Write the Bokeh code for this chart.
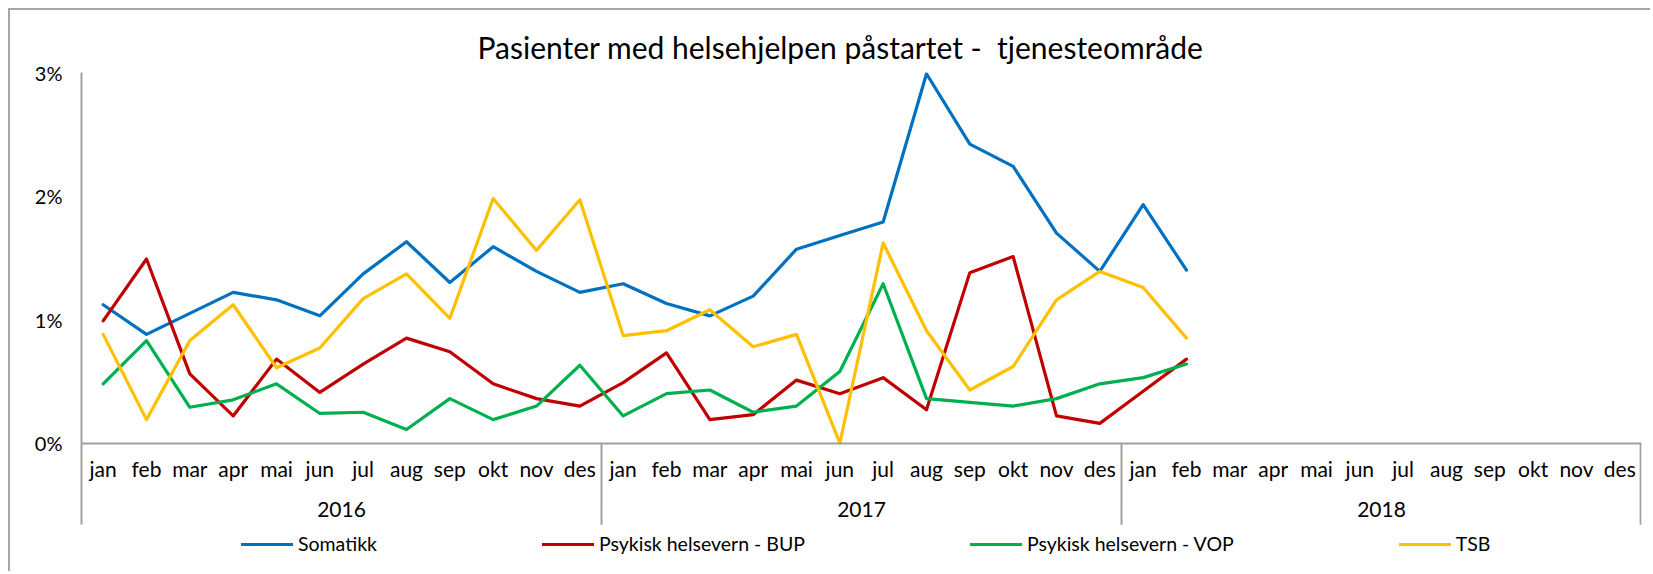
from bokeh.plotting import figure
from bokeh.models import (FactorRange, Range1d, FixedTicker, Legend, LegendItem,
                          PrintfTickFormatter, ColumnDataSource, CategoricalAxis)
from bokeh.embed import file_html
from bokeh.resources import INLINE

years = ["2016", "2017", "2018"]
months = ["jan", "feb", "mar", "apr", "mai", "jun", "jul", "aug", "sep", "okt", "nov", "des"]

# values in percent, jan 2016 .. feb 2018
somatikk = [1.12, 0.88, 1.05, 1.22, 1.16, 1.03, 1.37, 1.63, 1.30, 1.59, 1.39, 1.22,
            1.29, 1.13, 1.03, 1.19, 1.57, 1.68, 1.79, 2.99, 2.42, 2.24, 1.70, 1.39,
            1.93, 1.40]
bup = [0.99, 1.49, 0.56, 0.22, 0.68, 0.41, 0.64, 0.85, 0.74, 0.48, 0.36, 0.30,
       0.49, 0.73, 0.19, 0.23, 0.51, 0.40, 0.53, 0.27, 1.38, 1.51, 0.22, 0.16,
       0.42, 0.68]
vop = [0.48, 0.83, 0.29, 0.35, 0.48, 0.24, 0.25, 0.11, 0.36, 0.19, 0.30, 0.63,
       0.22, 0.40, 0.43, 0.25, 0.30, 0.58, 1.29, 0.36, 0.33, 0.30, 0.36, 0.48,
       0.53, 0.64]
tsb = [0.88, 0.19, 0.83, 1.12, 0.61, 0.77, 1.17, 1.37, 1.01, 1.98, 1.56, 1.97,
       0.87, 0.91, 1.08, 0.78, 0.88, 0.00, 1.62, 0.91, 0.43, 0.62, 1.16, 1.39,
       1.26, 0.85]

series_names = ["Somatikk", "Psykisk helsevern - BUP", "Psykisk helsevern - VOP", "TSB"]
series_values = [somatikk, bup, vop, tsb]
series_colors = ["#0070C0", "#C00000", "#00B050", "#FFC000"]

title_text = "Pasienter med helsehjelpen påstartet -\u00a0 tjenesteområde"

y_ticks = [0, 1, 2, 3]

factors = [(y, m) for y in years for m in months]

FONT = "Lato"
AXIS_GREY = "#a0a0a0"
SEP_DEPTH = -0.66      # how far the category separators reach below 0 (in axis units)
Y_BOTTOM = -1.015      # frame extends below the axis so the legend can live inside it

p = figure(width=1642, height=563,
           x_range=FactorRange(*factors, factor_padding=0, group_padding=0, range_padding=0),
           y_range=Range1d(Y_BOTTOM, 3),
           output_backend="svg", toolbar_location=None,
           min_border_left=71, min_border_right=11, min_border_top=62, min_border_bottom=5,
           outline_line_color=None)
p.styles = {"position": "relative", "left": "8px", "top": "8px",
            "border-left": "2px solid #a6a6a6", "border-top": "2px solid #a6a6a6"}
p.extra_x_ranges = {"years": FactorRange(*years, factor_padding=0, range_padding=0)}

p.title.text = title_text
p.title.text_font = FONT
p.title.text_font_size = "30px"
p.title.text_font_style = "normal"
p.title.text_color = "#000000"
p.title.align = "left"
p.title.offset = 396
p.title.standoff = 16

p.xgrid.visible = False
p.ygrid.visible = False

yax = p.yaxis[0]
yax.ticker = FixedTicker(ticks=y_ticks)
yax.formatter = PrintfTickFormatter(format="%d%%")
yax.bounds = (SEP_DEPTH, y_ticks[-1])
yax.axis_line_color = AXIS_GREY
yax.axis_line_width = 2
yax.major_tick_line_color = None
yax.minor_tick_line_color = None
yax.major_label_text_font = FONT
yax.major_label_text_font_size = "20px"
yax.major_label_text_color = "#000000"
yax.major_label_standoff = 13

xax = p.xaxis[0]
xax.fixed_location = 0
xax.axis_line_color = AXIS_GREY
xax.axis_line_width = 2
xax.major_tick_line_color = None
xax.minor_tick_line_color = None
xax.major_label_text_font = FONT
xax.major_label_text_font_size = "21px"
xax.major_label_text_color = "#000000"
xax.major_label_standoff = 7
xax.group_text_color = None
xax.separator_line_color = None

year_axis = CategoricalAxis(x_range_name="years", fixed_location=0,
                            axis_line_color=None, major_tick_line_color=None,
                            minor_tick_line_color=None,
                            major_label_text_font=FONT, major_label_text_font_size="21px",
                            major_label_text_color="#000000", major_label_standoff=53)
p.add_layout(year_axis, "below")

# year separators and right edge of the category axis
n_months = len(months)
sep_x = [n_months * (k + 1) for k in range(len(years))]
sep_x[-1] = sep_x[-1] - 0.02
p.segment(x0=sep_x, y0=[0] * len(sep_x), x1=sep_x, y1=[SEP_DEPTH] * len(sep_x),
          line_color=AXIS_GREY, line_width=2)

items = []
for name, vals, col in zip(series_names, series_values, series_colors):
    src = ColumnDataSource(dict(x=factors[:len(vals)], y=vals))
    r = p.line(x="x", y="y", source=src, line_color=col, line_width=3.2,
               line_join="round", line_cap="round")
    items.append(LegendItem(label=name, renderers=[r]))

legend = Legend(items=items, orientation="horizontal", location=(160, 13),
                glyph_width=52, glyph_height=20, label_height=20, label_standoff=5,
                spacing=165, padding=0, margin=0,
                border_line_color=None, background_fill_alpha=0,
                label_text_font=FONT, label_text_font_size="19.5px", label_text_color="#000000")
p.add_layout(legend, "center")

open("out.html", "w").write(file_html(p, INLINE))
